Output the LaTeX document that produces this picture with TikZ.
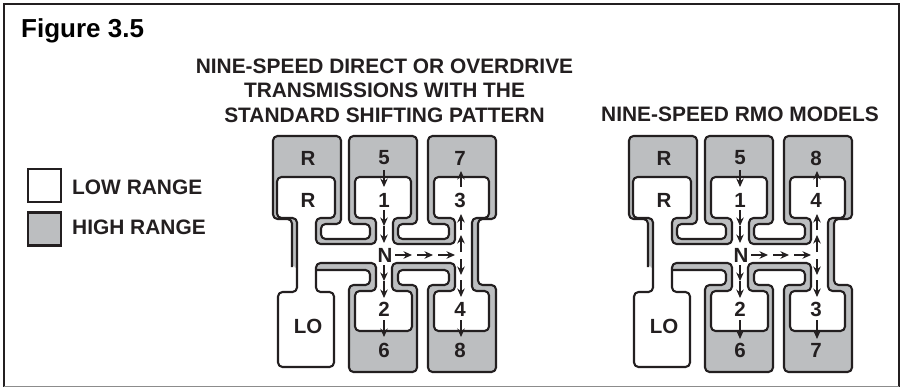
\documentclass[tikz,border=0pt]{standalone}
\usepackage{fontspec}
\setmainfont{Liberation Sans}
\usetikzlibrary{arrows.meta}
\definecolor{ink}{HTML}{231F20}
\definecolor{hirange}{HTML}{BCBEC0}
\tikzset{
  x=1pt,y=-1pt,
  contour/.style={draw=ink,line width=2.1pt,rounded corners=4.5pt,line join=round},
  grayfill/.style={fill=hirange,rounded corners=4.5pt},
  gear/.style={text=ink,inner sep=0pt,font=\fontsize{20.5}{21}\selectfont\bfseries},
  head/.style={text=ink,inner sep=0pt,align=center,font=\fontsize{20.9}{24.4}\selectfont\bfseries},
  legendtext/.style={text=ink,inner sep=0pt,anchor=west,font=\fontsize{20.9}{22}\selectfont\bfseries},
  legendbox/.style={draw=ink,line width=2.1pt,minimum width=33pt,minimum height=33pt,inner sep=0pt},
  shiftarrow/.style={draw=ink,line width=1.3pt,-{Stealth[length=8.5pt,width=7.5pt]}},
}
\newcommand{\shiftarrowv}[5]{%
  \coordinate (#1s) at (#2,#3);\coordinate (#1t) at (#4,#5);
  \draw[shiftarrow] (#1s) -- (#1t);}
\newcommand{\shiftgate}[7]{%
\begin{scope}[xshift=#2pt]
  \def\outerpath{(292,267) -- (292,219) -- (273,219) -- (273,136) -- (341,136) -- (341,224) -- (321,224) -- (321,239) -- (370,239) -- (370,224) -- (349,224) -- (349,136) -- (417,136) -- (417,224) -- (398,224) -- (398,239) -- (449,239) -- (449,224) -- (428,224) -- (428,136) -- (496,136) -- (496,219) -- (478,219) -- (478,285) -- (496,285) -- (496,372) -- (428,372) -- (428,285) -- (449,285) -- (449,270) -- (398,270) -- (398,285) -- (417,285) -- (417,372) -- (349,372) -- (349,285) -- (370,285) -- (370,270) -- (316,270)}
  \fill[grayfill] \outerpath -- (316,263) -- (298,268) -- cycle;
  \draw[contour] \outerpath;
  \draw[contour,fill=white] (277,177) -- (335,177) -- (335,218) -- (316,218) -- (316,244) -- (376,244) -- (376,218) -- (355,218) -- (355,177) -- (411,177) -- (411,218) -- (393,218) -- (393,244) -- (455,244) -- (455,218) -- (434,218) -- (434,177) -- (489,177) -- (489,218) -- (472,218) -- (472,291) -- (489,291) -- (489,331) -- (434,331) -- (434,291) -- (455,291) -- (455,263) -- (392,263) -- (392,291) -- (412,291) -- (412,331) -- (355,331) -- (355,291) -- (376,291) -- (376,263) -- (316,263) -- (316,292) -- (334,292) -- (334,367) -- (278,367) -- (278,292) -- (297,292) -- (297,218) -- (277,218) -- cycle;
  \node[gear] (#1rh) at (308,158) {R};
  \node[gear] (#1rl) at (308,200) {R};
  \node[gear] (#1five) at (384,158) {5};
  \node[gear] (#1one) at (384,200) {1};
  \node[gear] (#1tr) at (460,158) {#3};
  \node[gear] (#1ur) at (460,200) {#4};
  \node[gear] (#1n) at (385,255) {N};
  \node[gear] (#1two) at (384,309) {2};
  \node[gear] (#1lr) at (460,309) {#5};
  \node[gear] (#1six) at (384,350) {6};
  \node[gear] (#1br) at (460,350) {#6};
  \node[gear] (#1lo) at (308,326) {LO};
  \shiftarrowv{#1a}{384}{170}{384}{187}
  \shiftarrowv{#1b}{384}{210}{384}{226}
  \shiftarrowv{#1c}{384}{226}{384}{243}
  \shiftarrowv{#1d}{384}{265}{384}{281}
  \shiftarrowv{#1e}{384}{281}{384}{298}
  \shiftarrowv{#1f}{384}{320}{384}{#7}
  \shiftarrowv{#1g}{395}{255}{412}{255}
  \shiftarrowv{#1h}{417}{255}{433}{255}
  \shiftarrowv{#1i}{438}{255}{455}{255}
  \shiftarrowv{#1j}{461}{187}{461}{171}
  \shiftarrowv{#1k}{461}{230}{461}{214}
  \shiftarrowv{#1l}{461}{252}{461}{235}
  \shiftarrowv{#1m}{461}{259}{461}{275}
  \shiftarrowv{#1o}{461}{280}{461}{297}
  \shiftarrowv{#1p}{461}{320}{461}{#7}
\end{scope}}
\begin{document}
\begin{tikzpicture}
  \useasboundingbox (0,0) rectangle (901,387);
  \fill[white] (0,0) rectangle (901,387);
  \draw[ink,line width=2.6pt] (4,386.5) -- (4,4) -- (899,4) -- (899,386.5);
  \draw[black!45,line width=1pt] (4,386.5) -- (899,386.5);
  \node[anchor=west,inner sep=0pt,text=black,font=\fontsize{26}{28}\selectfont\bfseries] (fig) at (21,31) {Figure 3.5};
  \node[head] (headleft) at (384.5,90.5) {NINE-SPEED DIRECT OR OVERDRIVE\\TRANSMISSIONS WITH THE\\STANDARD SHIFTING PATTERN};
  \node[head] (headright) at (740,114.5) {NINE-SPEED RMO MODELS};
  \node[legendbox,fill=white] (low) at (44.5,185.5) {};
  \node[legendbox,fill=hirange] (high) at (44.5,229) {};
  \node[legendtext] (lowt) at (72,187) {LOW RANGE};
  \node[legendtext] (hight) at (72,227) {HIGH RANGE};
  \shiftgate{l}{0}{7}{3}{4}{8}{337}
  \shiftgate{r}{356}{8}{4}{3}{7}{339}
\end{tikzpicture}
\end{document}
